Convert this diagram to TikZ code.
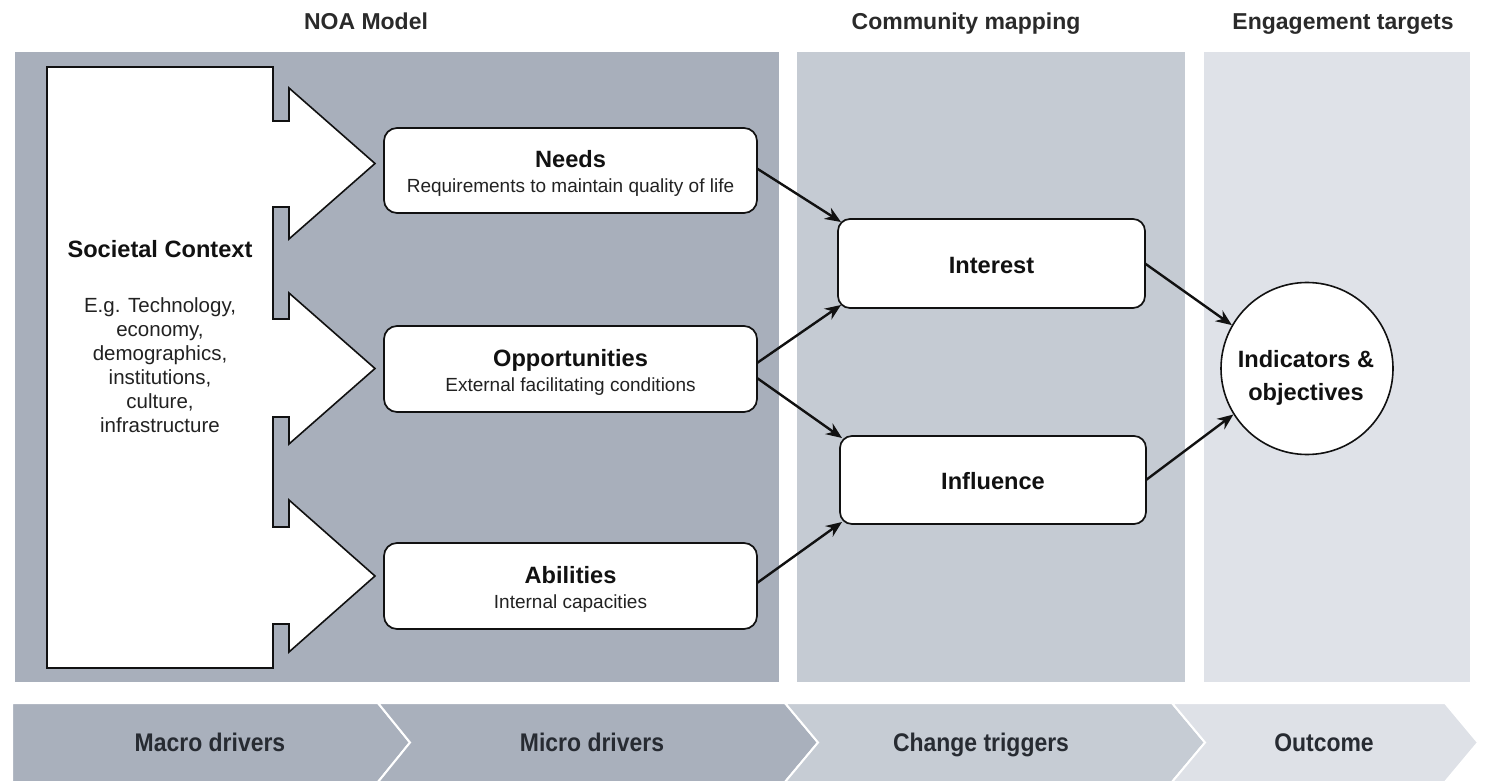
\documentclass[tikz,border=0pt]{standalone}
\usepackage{fontspec}
\setmainfont{Liberation Sans}
\usetikzlibrary{arrows.meta,calc}
\definecolor{pone}{HTML}{A8AFBB}
\definecolor{ptwo}{HTML}{C5CBD3}
\definecolor{pthree}{HTML}{DFE2E8}
\definecolor{cone}{HTML}{A9B0BC}
\definecolor{cthree}{HTML}{C6CCD4}
\definecolor{cfour}{HTML}{DEE1E7}
\definecolor{ink}{HTML}{111111}
\definecolor{subink}{HTML}{222222}
\definecolor{titleink}{HTML}{2A2A2A}
\definecolor{chevink}{HTML}{272B32}
\newcommand\fsz[2]{\fontsize{#1}{#2}\selectfont}
\tikzset{
  panel/.style={draw=none, inner sep=0pt, outer sep=0pt, anchor=north west},
  box/.style={draw=ink, line width=1.7pt, fill=white, rounded corners=13pt, inner sep=0pt, outer sep=0pt},
  arr/.style={draw=ink, line width=2.4pt, -{Stealth[length=16pt,width=13pt]}},
  boldlbl/.style={font=\fsz{23.6}{28}\bfseries, text=ink, inner sep=0pt, anchor=base},
  sublbl/.style={font=\fsz{19}{23}, text=subink, inner sep=0pt, anchor=base},
  titlelbl/.style={font=\fsz{23}{28}\bfseries, text=titleink, inner sep=0pt, anchor=base},
  chevlbl/.style={font=\fsz{25.5}{30}\bfseries, text=chevink, inner sep=0pt, anchor=base},
  chev/.style={draw=white, line width=2pt, line join=miter},
}
\begin{document}
\begin{tikzpicture}[x=1pt,y=-1pt]
\useasboundingbox (0,0) rectangle (1488,783);
\fill[white] (0,0) rectangle (1488,783);

% titles
\node[titlelbl] (tnoa) at (366,30) {NOA Model};
\node[titlelbl] (tcom) at (966,30) {Community mapping};
\node[titlelbl] (teng) at (1343,30) {Engagement targets};

% panels
\node[panel, fill=pone, minimum width=764pt, minimum height=630pt] (pnoa) at (15,52) {};
\node[panel, fill=ptwo, minimum width=388pt, minimum height=630pt] (pcom) at (797,52) {};
\node[panel, fill=pthree, minimum width=266pt, minimum height=630pt] (peng) at (1204,52) {};

% societal context shape
\draw[draw=ink, line width=1.6pt, fill=white, line join=miter]
  (47,67) -- (273,67) -- (273,121) -- (289,121) -- (289,88) -- (375,163.5) -- (289,239)
  -- (289,207) -- (273,207) -- (273,319) -- (289,319) -- (289,293) -- (375,368.5) -- (289,444)
  -- (289,417) -- (273,417) -- (273,527) -- (289,527) -- (289,500) -- (375,576) -- (289,652)
  -- (289,624) -- (273,624) -- (273,668) -- (47,668) -- cycle;
\node[boldlbl] (soc) at (160,257.5) {Societal Context};
\node[font=\fsz{20.5}{24}, text=subink, inner sep=0pt, align=center, anchor=north] (socb) at (160,297)
  {E.g. Technology,\\economy,\\demographics,\\institutions,\\culture,\\infrastructure};

% NOA boxes
\node[box, minimum width=373pt, minimum height=85pt] (needs) at (570.5,170.5) {};
\node[box, minimum width=373pt, minimum height=86pt] (opp) at (570.5,369) {};
\node[box, minimum width=373pt, minimum height=86pt] (abil) at (570.5,586) {};
\node[boldlbl, yshift=2.5pt] (needst) at (needs.center) {Needs};
\node[sublbl, yshift=-22.5pt] (needss) at (needs.center) {Requirements to maintain quality of life};
\node[boldlbl, yshift=2.5pt] (oppt) at (opp.center) {Opportunities};
\node[sublbl, yshift=-22.5pt] (opps) at (opp.center) {External facilitating conditions};
\node[boldlbl, yshift=2.5pt] (abilt) at (abil.center) {Abilities};
\node[sublbl, yshift=-22.5pt] (abils) at (abil.center) {Internal capacities};

% community boxes
\node[box, rounded corners=12pt, minimum width=307pt, minimum height=89pt] (interest) at (991.5,263.5) {};
\node[box, rounded corners=12pt, minimum width=306pt, minimum height=88pt] (influence) at (993,480) {};
\node[boldlbl, yshift=-10pt] (interestt) at (interest.center) {Interest};
\node[boldlbl, yshift=-9pt] (influencet) at (influence.center) {Influence};

% outcome circle
\node[circle, draw=ink, line width=1.6pt, fill=white, minimum size=172pt, inner sep=0pt] (goal) at (1307,368.5) {};
\node[boldlbl] (goala) at (1306,367.5) {Indicators \&};
\node[boldlbl] (goalb) at (1306,400) {objectives};

% connectors
\draw[arr] ([yshift=2pt]needs.east) -- ([shift={(3pt,-3pt)}]interest.north west);
\draw[arr] ([yshift=6pt]opp.east) -- ([shift={(3pt,3pt)}]interest.south west);
\draw[arr] ([yshift=-9pt]opp.east) -- ([shift={(2pt,-2pt)}]influence.north west);
\draw[arr] ([yshift=3pt]abil.east) -- ([shift={(2pt,2pt)}]influence.south west);
\draw[arr] (interest.east) -- (goal.150);
\draw[arr] (influence.east) -- (goal.212);

% bottom chevrons
\filldraw[chev, fill=cone] (12,703) -- (378,703) -- (410,742.5) -- (378,782) -- (12,782) -- cycle;
\filldraw[chev, fill=cone] (378,703) -- (785,703) -- (818,742.5) -- (785,782) -- (378,782) -- (410,742.5) -- cycle;
\filldraw[chev, fill=cthree] (785,703) -- (1172,703) -- (1205,742.5) -- (1172,782) -- (785,782) -- (818,742.5) -- cycle;
\filldraw[chev, fill=cfour] (1172,703) -- (1445,703) -- (1478,742.5) -- (1445,782) -- (1172,782) -- (1205,742.5) -- cycle;
\node[chevlbl] (cmacro) at (210,751) {\scalebox{0.9}[1]{Macro drivers}};
\node[chevlbl] (cmicro) at (592,751) {\scalebox{0.9}[1]{Micro drivers}};
\node[chevlbl] (cchange) at (981,751) {\scalebox{0.9}[1]{Change triggers}};
\node[chevlbl] (cout) at (1324,751) {\scalebox{0.9}[1]{Outcome}};
\end{tikzpicture}
\end{document}
